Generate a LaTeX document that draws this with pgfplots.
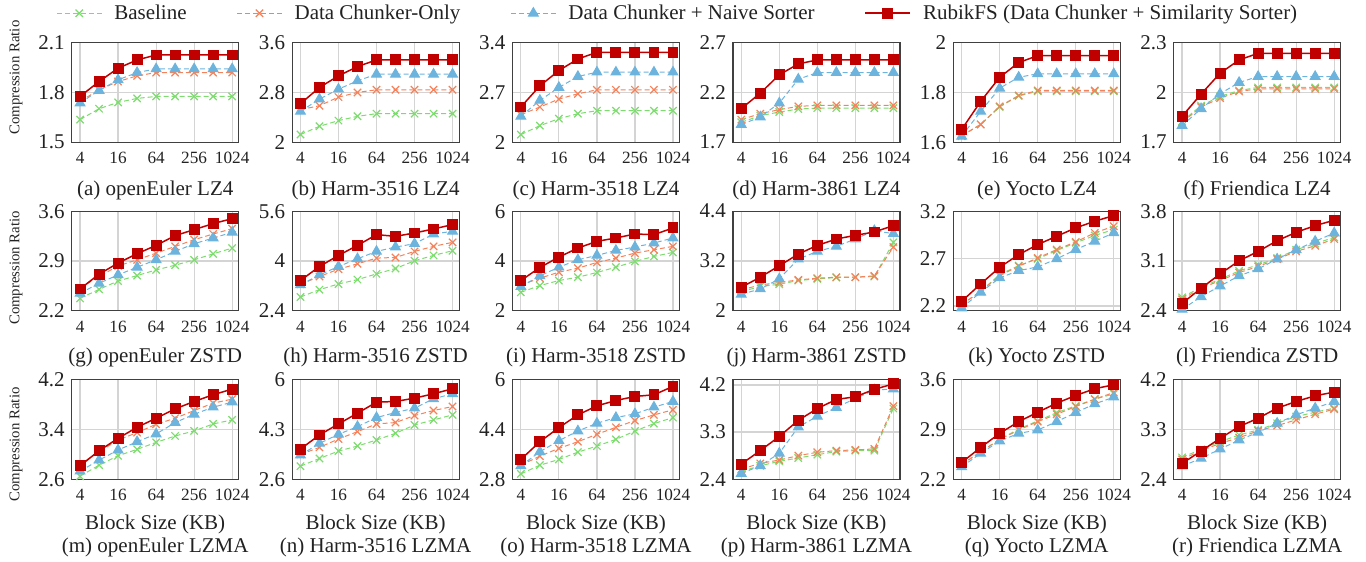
\documentclass[border=0pt]{standalone}
\usepackage{fontspec}
\setmainfont{Liberation Serif}
\usepackage{pgfplots}
\usepackage{pgfplotstable}
\pgfplotsset{compat=1.18}
\usepgfplotslibrary{groupplots}

\definecolor{cbase}{RGB}{125,220,110}
\definecolor{cchunk}{RGB}{245,130,90}
\definecolor{cnaive}{RGB}{108,180,222}
\definecolor{crubik}{RGB}{192,0,0}
\definecolor{boxgray}{RGB}{64,64,64}
\definecolor{gridgray}{RGB}{212,212,212}
\definecolor{txt}{RGB}{34,34,34}

% columns: b = Baseline, c = Data Chunker-Only, n = + Naive Sorter, r = RubikFS
\pgfplotstableread{
x b c n r
4 1.636 1.746 1.736 1.776
8 1.702 1.816 1.812 1.866
16 1.740 1.866 1.876 1.946
32 1.764 1.900 1.920 1.996
64 1.776 1.920 1.942 2.026
128 1.776 1.920 1.942 2.026
256 1.776 1.920 1.942 2.026
512 1.776 1.920 1.942 2.026
1024 1.776 1.920 1.942 2.026
}\tA
\pgfplotstableread{
x b c n r
4 2.123 2.523 2.496 2.619
8 2.256 2.587 2.693 2.880
16 2.347 2.725 2.853 3.067
32 2.416 2.800 2.987 3.216
64 2.459 2.843 3.093 3.323
128 2.459 2.843 3.093 3.323
256 2.459 2.843 3.093 3.323
512 2.459 2.843 3.093 3.323
1024 2.459 2.843 3.093 3.323
}\tB
\pgfplotstableread{
x b c n r
4 2.107 2.387 2.364 2.495
8 2.233 2.495 2.588 2.793
16 2.331 2.607 2.770 3.008
32 2.401 2.681 2.924 3.171
64 2.443 2.737 2.985 3.265
128 2.443 2.737 2.985 3.265
256 2.443 2.737 2.985 3.265
512 2.443 2.737 2.985 3.265
1024 2.443 2.737 2.985 3.265
}\tC
\pgfplotstableread{
x b c n r
4 1.900 1.927 1.877 2.037
8 1.967 1.987 1.953 2.193
16 2.003 2.027 2.093 2.377
32 2.033 2.060 2.333 2.487
64 2.043 2.070 2.400 2.527
128 2.043 2.070 2.400 2.527
256 2.043 2.070 2.400 2.527
512 2.043 2.070 2.400 2.527
1024 2.043 2.070 2.400 2.527
}\tD
\pgfplotstableread{
x b c n r
4 1.624 1.627 1.624 1.651
8 1.672 1.671 1.724 1.764
16 1.742 1.744 1.817 1.861
32 1.786 1.788 1.861 1.920
64 1.805 1.808 1.875 1.948
128 1.805 1.808 1.875 1.948
256 1.805 1.808 1.875 1.948
512 1.805 1.808 1.875 1.948
1024 1.805 1.808 1.875 1.948
}\tE
\pgfplotstableread{
x b c n r
4 1.826 1.820 1.800 1.856
8 1.920 1.912 1.902 1.990
16 1.976 1.966 1.992 2.116
32 2.012 2.006 2.060 2.196
64 2.030 2.022 2.096 2.236
128 2.030 2.022 2.096 2.236
256 2.030 2.022 2.096 2.236
512 2.030 2.022 2.096 2.236
1024 2.030 2.022 2.096 2.236
}\tF
\pgfplotstableread{
x b c n r
4 2.373 2.520 2.444 2.506
8 2.500 2.680 2.586 2.714
16 2.618 2.830 2.704 2.870
32 2.694 2.916 2.812 3.002
64 2.774 3.010 2.916 3.119
128 2.840 3.104 3.034 3.256
256 2.916 3.199 3.142 3.341
512 3.000 3.279 3.222 3.425
1024 3.081 3.354 3.303 3.496
}\tG
\pgfplotstableread{
x b c n r
4 2.840 3.250 3.229 3.370
8 3.077 3.500 3.552 3.822
16 3.260 3.735 3.822 4.178
32 3.400 3.908 4.070 4.500
64 3.584 4.091 4.307 4.846
128 3.757 4.113 4.447 4.792
256 4.005 4.307 4.555 4.900
512 4.178 4.469 4.867 5.029
1024 4.329 4.598 4.953 5.169
}\tH
\pgfplotstableread{
x b c n r
4 2.741 3.037 2.970 3.212
8 3.010 3.306 3.400 3.737
16 3.212 3.549 3.750 4.155
32 3.347 3.710 4.047 4.519
64 3.535 3.939 4.222 4.788
128 3.750 4.114 4.424 4.923
256 3.980 4.316 4.559 5.084
512 4.182 4.451 4.720 5.057
1024 4.343 4.586 4.923 5.327
}\tI
\pgfplotstableread{
x b c n r
4 2.460 2.501 2.396 2.566
8 2.582 2.622 2.525 2.808
16 2.638 2.679 2.768 3.083
32 2.727 2.743 3.244 3.366
64 2.768 2.784 3.430 3.576
128 2.800 2.808 3.552 3.729
256 2.808 2.808 3.729 3.818
512 2.824 2.840 3.930 3.899
1024 3.648 3.535 3.859 4.053
}\tJ
\pgfplotstableread{
x b c n r
4 2.214 2.214 2.179 2.249
8 2.355 2.355 2.345 2.432
16 2.531 2.520 2.496 2.608
32 2.626 2.619 2.573 2.742
64 2.697 2.707 2.612 2.848
128 2.785 2.795 2.697 2.936
256 2.866 2.876 2.795 3.024
512 2.944 2.971 2.883 3.094
1024 3.006 3.042 2.971 3.154
}\tK
\pgfplotstableread{
x b c n r
4 2.588 2.560 2.418 2.503
8 2.730 2.715 2.597 2.715
16 2.843 2.824 2.748 2.918
32 2.960 2.937 2.890 3.102
64 3.045 3.022 2.989 3.234
128 3.140 3.125 3.125 3.385
256 3.258 3.234 3.258 3.503
512 3.343 3.314 3.376 3.597
1024 3.432 3.408 3.493 3.673
}\tL
\pgfplotstableread{
x b c n r
4 2.648 2.840 2.729 2.815
8 2.826 3.040 2.907 3.058
16 2.977 3.230 3.069 3.257
32 3.080 3.349 3.203 3.435
64 3.192 3.483 3.327 3.580
128 3.295 3.580 3.510 3.731
256 3.376 3.704 3.645 3.850
512 3.489 3.823 3.758 3.958
1024 3.553 3.888 3.839 4.049
}\tM
\pgfplotstableread{
x b c n r
4 3.046 3.447 3.424 3.630
8 3.309 3.687 3.825 4.111
16 3.561 3.974 4.134 4.489
32 3.733 4.225 4.397 4.855
64 3.939 4.489 4.706 5.233
128 4.168 4.535 4.878 5.256
256 4.454 4.775 5.027 5.370
512 4.626 4.947 5.348 5.519
1024 4.798 5.084 5.519 5.691
}\tN
\pgfplotstableread{
x b c n r
4 2.972 3.252 3.230 3.435
8 3.250 3.543 3.683 4.006
16 3.435 3.791 4.039 4.459
32 3.670 4.006 4.351 4.869
64 3.866 4.244 4.599 5.159
128 4.080 4.470 4.782 5.332
256 4.350 4.685 4.901 5.461
512 4.588 4.869 5.116 5.515
1024 4.782 5.030 5.300 5.784
}\tO
\pgfplotstableread{
x b c n r
4 2.548 2.593 2.509 2.689
8 2.657 2.702 2.657 2.946
16 2.741 2.766 2.895 3.216
32 2.805 2.850 3.396 3.524
64 2.869 2.914 3.602 3.749
128 2.927 2.946 3.769 3.923
256 2.946 2.959 3.942 3.974
512 2.946 2.978 4.103 4.116
1024 3.750 3.795 4.122 4.219
}\tP
\pgfplotstableread{
x b c n r
4 2.407 2.407 2.374 2.435
8 2.586 2.586 2.563 2.647
16 2.760 2.760 2.737 2.845
32 2.906 2.892 2.845 3.010
64 3.020 3.010 2.892 3.142
128 3.137 3.114 3.010 3.270
256 3.232 3.222 3.137 3.378
512 3.326 3.326 3.260 3.473
1024 3.400 3.420 3.354 3.529
}\tQ
\pgfplotstableread{
x b c n r
4 2.794 2.758 2.636 2.685
8 2.939 2.915 2.776 2.909
16 3.079 3.048 2.945 3.139
32 3.200 3.152 3.109 3.352
64 3.291 3.273 3.248 3.503
128 3.412 3.370 3.412 3.685
256 3.533 3.473 3.564 3.806
512 3.612 3.576 3.685 3.909
1024 3.685 3.667 3.806 3.976
}\tR

\pgfplotsset{
  base/.style={color=cbase, line width=0.5pt, dash pattern=on 2.5pt off 1.5pt,
    mark=x, mark size=2.6pt, mark options={solid, line width=0.6pt}},
  chunk/.style={color=cchunk, line width=0.5pt, dash pattern=on 2.5pt off 1.5pt,
    mark=x, mark size=2.6pt, mark options={solid, line width=0.6pt}},
  naive/.style={color=cnaive, line width=0.5pt, dash pattern=on 2.5pt off 1.5pt,
    mark=triangle*, mark size=2.8pt, mark options={solid}},
  rubik/.style={color=crubik, line width=0.75pt, solid,
    mark=square*, mark size=2.35pt},
  r1/.style={xlabel style={at={(axis description cs:0.5,-0.48)}, anchor=center}},
  r2/.style={xlabel style={at={(axis description cs:0.5,-0.47)}, anchor=center}},
  r3/.style={xlabel={Block Size (KB)},
    xlabel style={at={(axis description cs:0.5,-0.455)}, anchor=center},
    every axis title shift=0pt,
    title style={at={(axis description cs:0.5,-0.69)}, anchor=center, yshift=0pt,
      font=\rmfamily\fontsize{10.5}{12}\selectfont, text=txt},
  },
  yl/.style={ylabel={Compression Ratio},
    ylabel style={at={(axis description cs:-0.333,#1)}, anchor=center,
      font=\rmfamily\fontsize{7.4}{9}\selectfont}},
}

\newcommand{\fourlines}[1]{%
  \addplot[base] table[x=x, y=b] {#1};
  \addplot[chunk] table[x=x, y=c] {#1};
  \addplot[naive] table[x=x, y=n] {#1};
  \addplot[rubik] table[x=x, y=r] {#1};
}

\begin{document}
\begin{tikzpicture}
\begin{groupplot}[
    group style={group size=6 by 3, horizontal sep=26.7pt, vertical sep=34.5pt},
    scale only axis,
    width=83.5pt, height=49.75pt,
    xmode=log, log basis x=2,
    xmin=2.95, xmax=1300,
    xtick={4,16,64,256,1024},
    xticklabels={4,16,64,256,1024},
    major tick length=0pt,
    xmajorgrids, ymajorgrids,
    grid style={color=gridgray, line width=0.6pt},
    axis line style={draw=boxgray, line width=0.6pt},
    /pgf/number format/assume math mode=true,
    x tick label style={font=\rmfamily\fontsize{8.6}{10}\selectfont, text=txt, yshift=-1.5pt},
    y tick label style={font=\rmfamily\fontsize{10.5}{12}\selectfont, text=txt},
    label style={text=txt},
    xlabel style={font=\rmfamily\fontsize{10.5}{12}\selectfont},
    legend columns=4,
    legend style={draw=none, fill=none, font=\rmfamily\fontsize{10.5}{12}\selectfont, text=txt,
      /tikz/every odd column/.append style={column sep=4pt},
      /tikz/every even column/.append style={column sep=23pt}},
    legend image code/.code={%
      \draw[mark repeat=2, mark phase=2] plot coordinates {(0pt,0pt) (11.25pt,0pt) (22.5pt,0pt)};},
]
% row 1: LZ4
\nextgroupplot[r1, yl=0.65, ymin=1.5, ymax=2.1, ytick={1.5,1.8,2.1}, xlabel={(a) openEuler LZ4},
  legend style={at={(rel axis cs:3.635,1.296)}, anchor=center}]
\fourlines{\tA}
\legend{Baseline, Data Chunker-Only, Data Chunker + Naive Sorter, RubikFS (Data Chunker + Similarity Sorter)}
\nextgroupplot[r1, ymin=2, ymax=3.6, ytick={2,2.8,3.6}, xlabel={(b) Harm-3516 LZ4}]
\fourlines{\tB}
\nextgroupplot[r1, ymin=2, ymax=3.4, ytick={2,2.7,3.4}, xlabel={(c) Harm-3518 LZ4}]
\fourlines{\tC}
\nextgroupplot[r1, ymin=1.7, ymax=2.7, ytick={1.7,2.2,2.7}, xlabel={(d) Harm-3861 LZ4}]
\fourlines{\tD}
\nextgroupplot[r1, ymin=1.6, ymax=2, ytick={1.6,1.8,2}, xlabel={(e) Yocto LZ4}]
\fourlines{\tE}
\nextgroupplot[r1, ymin=1.7, ymax=2.3, ytick={1.7,2,2.3}, xlabel={(f) Friendica LZ4}]
\fourlines{\tF}
% row 2: ZSTD
\nextgroupplot[r2, yl=0.43, ymin=2.2, ymax=3.6, ytick={2.2,2.9,3.6}, xlabel={(g) openEuler ZSTD}]
\fourlines{\tG}
\nextgroupplot[r2, ymin=2.4, ymax=5.6, ytick={2.4,4,5.6}, xlabel={(h) Harm-3516 ZSTD}]
\fourlines{\tH}
\nextgroupplot[r2, ymin=2, ymax=6, ytick={2,4,6}, xlabel={(i) Harm-3518 ZSTD}]
\fourlines{\tI}
\nextgroupplot[r2, ymin=2, ymax=4.4, ytick={2,3.2,4.4}, xlabel={(j) Harm-3861 ZSTD}]
\fourlines{\tJ}
\nextgroupplot[r2, ymin=2.15, ymax=3.2, ytick={2.2,2.7,3.2}, xlabel={(k) Yocto ZSTD}]
\fourlines{\tK}
\nextgroupplot[r2, ymin=2.4, ymax=3.8, ytick={2.4,3.1,3.8}, xlabel={(l) Friendica ZSTD}]
\fourlines{\tL}
% row 3: LZMA
\nextgroupplot[r3, yl=0.35, ymin=2.6, ymax=4.2, ytick={2.6,3.4,4.2}, title={(m) openEuler LZMA}]
\fourlines{\tM}
\nextgroupplot[r3, ymin=2.6, ymax=6, ytick={2.6,4.3,6}, title={(n) Harm-3516 LZMA}]
\fourlines{\tN}
\nextgroupplot[r3, ymin=2.8, ymax=6, ytick={2.8,4.4,6}, title={(o) Harm-3518 LZMA}]
\fourlines{\tO}
\nextgroupplot[r3, ymin=2.4, ymax=4.3, ytick={2.4,3.3,4.2}, title={(p) Harm-3861 LZMA}]
\fourlines{\tP}
\nextgroupplot[r3, ymin=2.2, ymax=3.6, ytick={2.2,2.9,3.6}, title={(q) Yocto LZMA}]
\fourlines{\tQ}
\nextgroupplot[r3, ymin=2.4, ymax=4.2, ytick={2.4,3.3,4.2}, title={(r) Friendica LZMA}]
\fourlines{\tR}
\end{groupplot}
\pgfresetboundingbox
\path ([shift={(-35.85pt,21.35pt)}]group c1r1.north west)
  rectangle ([shift={(647.15pt,-259.65pt)}]group c1r1.north west);
\end{tikzpicture}
\end{document}
